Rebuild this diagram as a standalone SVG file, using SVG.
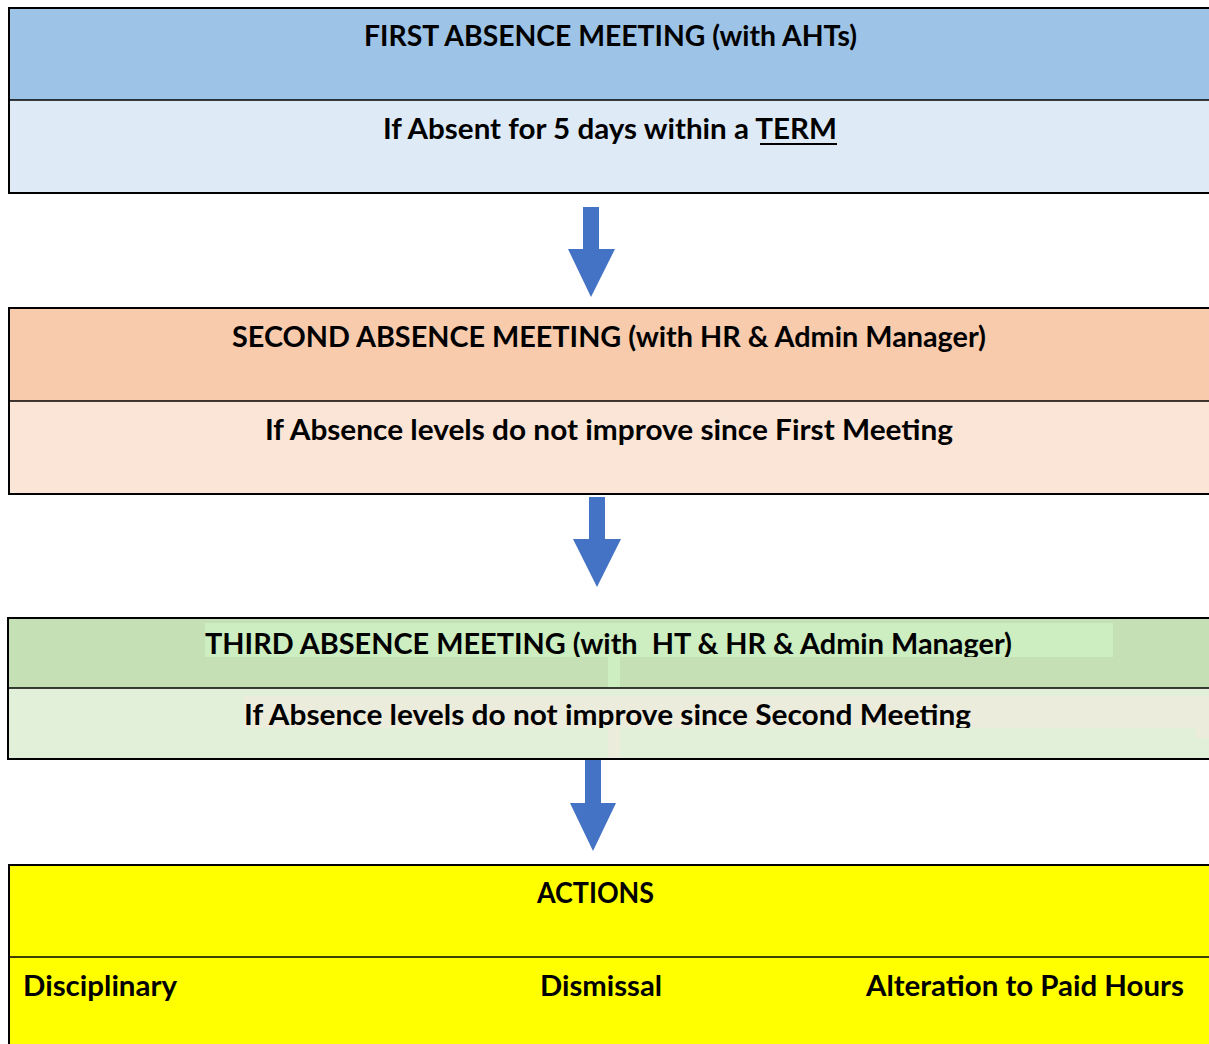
<svg xmlns="http://www.w3.org/2000/svg" width="1209" height="1044" viewBox="0 0 1209 1044">
<style>
.t{font-family:Lato,"Open Sans","Liberation Sans",sans-serif;font-weight:bold;font-size:29px;fill:#000}
.b{stroke:#000;stroke-width:2;fill:none}
.d{stroke:#000;stroke-width:1.5}
.arr{fill:#4472C4}
</style>
<defs>
<clipPath id="c3a"><rect x="0" y="618" width="1209" height="39"/></clipPath>
<clipPath id="c3b"><rect x="0" y="689" width="1209" height="39"/></clipPath>
</defs>
<rect width="1209" height="1044" fill="#fff"/>
<g id="node1">
<rect x="9" y="8" width="1210" height="92" fill="#9DC3E6"/>
<rect x="9" y="100" width="1210" height="93" fill="#DEEBF7"/>
<line class="d" x1="9" y1="100" x2="1209" y2="100"/>
<path class="b" d="M1212 8H9V193H1212"/>
<text class="t" x="364" y="46" textLength="493" lengthAdjust="spacingAndGlyphs">FIRST ABSENCE MEETING (with AHTs)</text>
<text class="t" x="383" y="139" textLength="454" lengthAdjust="spacingAndGlyphs">If Absent for 5 days within a TERM</text>
<line x1="760" y1="144" x2="837" y2="144" stroke="#000" stroke-width="2"/>
</g>
<g id="node2">
<rect x="9" y="308" width="1210" height="93" fill="#F8CBAD"/>
<rect x="9" y="401" width="1210" height="93" fill="#FBE5D6"/>
<line class="d" x1="9" y1="401" x2="1209" y2="401"/>
<path class="b" d="M1212 308H9V494H1212"/>
<text class="t" x="232" y="347" textLength="754" lengthAdjust="spacingAndGlyphs">SECOND ABSENCE MEETING (with HR &amp; Admin Manager)</text>
<text class="t" x="265" y="440" textLength="688" lengthAdjust="spacingAndGlyphs">If Absence levels do not improve since First Meeting</text>
</g>
<g id="node3">
<rect x="8" y="618" width="1210" height="70" fill="#C5E0B4"/>
<rect x="8" y="688" width="1210" height="71" fill="#E2F0D9"/>
<rect x="205" y="623" width="908" height="34" fill="#CCEEC0"/>
<rect x="608" y="657" width="12" height="31" fill="#CCEEC0"/>
<rect x="244" y="696" width="965" height="32" fill="#ECECDC"/>
<rect x="1196" y="728" width="13" height="10" fill="#ECECDC"/>
<rect x="608" y="728" width="12" height="31" fill="#ECECDC"/>
<line class="d" x1="8" y1="688" x2="1209" y2="688"/>
<path class="b" d="M1212 618H8V759H1212"/>
<text class="t" x="205" y="654" textLength="807" lengthAdjust="spacingAndGlyphs" clip-path="url(#c3a)">THIRD ABSENCE MEETING (with&#160; HT &amp; HR &amp; Admin Manager)</text>
<text class="t" x="244" y="725" textLength="727" lengthAdjust="spacingAndGlyphs" clip-path="url(#c3b)">If Absence levels do not improve since Second Meeting</text>
</g>
<g id="node4">
<rect x="9" y="865" width="1210" height="190" fill="#FFFF00"/>
<line class="d" x1="9" y1="957" x2="1209" y2="957"/>
<path class="b" d="M1212 865H9V1050"/>
<text class="t" x="537" y="903" textLength="117" lengthAdjust="spacingAndGlyphs">ACTIONS</text>
<text class="t" x="23" y="996" textLength="154" lengthAdjust="spacingAndGlyphs">Disciplinary</text>
<text class="t" x="540" y="996" textLength="122" lengthAdjust="spacingAndGlyphs">Dismissal</text>
<text class="t" x="866" y="996" textLength="318" lengthAdjust="spacingAndGlyphs">Alteration to Paid Hours</text>
</g>
<g id="connectors">
<polygon class="arr" points="583,207 599,207 599,249 615,249 591,297 568,249 583,249"/>
<polygon class="arr" points="589,497 605,497 605,539 621,539 597,587 573,539 589,539"/>
<polygon class="arr" points="585,760 601,760 601,803 616,803 593,851 570,803 585,803"/>
</g>
</svg>
